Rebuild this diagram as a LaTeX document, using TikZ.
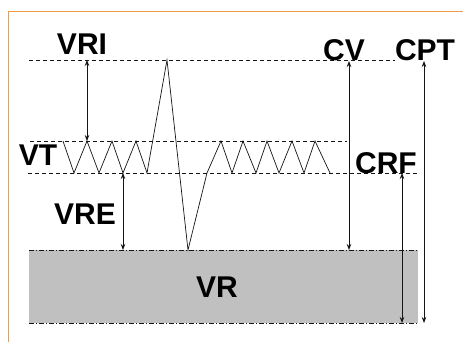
\documentclass[tikz,border=0pt]{standalone}
\usepackage{fontspec}
\setmainfont{Liberation Sans}
\usetikzlibrary{arrows.meta}
\definecolor{frameorange}{RGB}{240,155,75}
\definecolor{bandgray}{RGB}{192,192,192}
\definecolor{inkline}{RGB}{20,20,20}
\tikzset{
  lbl/.style={inner sep=0pt, font=\fontsize{30}{30}\selectfont\bfseries, text=black},
  refline/.style={draw=inkline, line width=0.8pt, dash pattern=on 4pt off 3pt},
  bandline/.style={draw=inkline, line width=0.8pt, dash pattern=on 5pt off 2pt on 1pt off 2pt},
  dim/.style={draw=inkline, line width=0.8pt, {Stealth[length=6pt,width=4.5pt]}-{Stealth[length=6pt,width=4.5pt]}},
  wave/.style={draw=inkline, line width=0.7pt, line join=miter},
}
\begin{document}
\begin{tikzpicture}[x=1pt,y=-1pt]
\useasboundingbox[fill=white] (0,0) rectangle (463,342);
% frame
\draw[frameorange, line width=1pt] (8,342) -- (8,12) -- (463,12);
% band VR
\fill[bandgray] (29,250) rectangle (418,323);
\draw[bandline] (29,250) -- (418,250);
\draw[bandline] (29,323) -- (418,323);
% reference lines
\draw[refline] (29,60) -- (395,60);
\draw[refline] (30,141) -- (347,141);
\draw[refline] (28,173) -- (417,173);
% waveform
\draw[wave] (63,141) -- (74,173) -- (87,141) -- (99,173) -- (112,141) -- (123,173)
  -- (136,141) -- (147,173) -- (167,60) -- (188,250) -- (207,173) -- (221,141)
  -- (232,173) -- (243,141) -- (256,173) -- (267,141) -- (279,173) -- (292,141)
  -- (304,173) -- (315,141) -- (330,173);
% coordinates for dimension arrows
\coordinate (vriT) at (87,60);   \coordinate (vriB) at (87,141);
\coordinate (vreT) at (123,173); \coordinate (vreB) at (123,250);
\coordinate (cvT) at (349,61);   \coordinate (cvB) at (349,250);
\coordinate (crfT) at (402,173); \coordinate (crfB) at (402,323);
\coordinate (cptT) at (424,61);  \coordinate (cptB) at (424,323);
\draw[dim] (vriT) -- (vriB);
\draw[dim] (vreT) -- (vreB);
\draw[dim] (cvT) -- (cvB);
\draw[dim] (crfT) -- (crfB);
\draw[dim] (cptT) -- (cptB);
% labels
\node[lbl] (VRI) at (82,44) {VRI};
\node[lbl] (VT) at (38,155) {VT};
\node[lbl] (VRE) at (85,214) {VRE};
\node[lbl] (VR) at (217,287) {VR};
\node[lbl] (CV) at (344,50) {CV};
\node[lbl] (CPT) at (425,50) {CPT};
\node[lbl] (CRF) at (386,163) {CRF};
\end{tikzpicture}
\end{document}
